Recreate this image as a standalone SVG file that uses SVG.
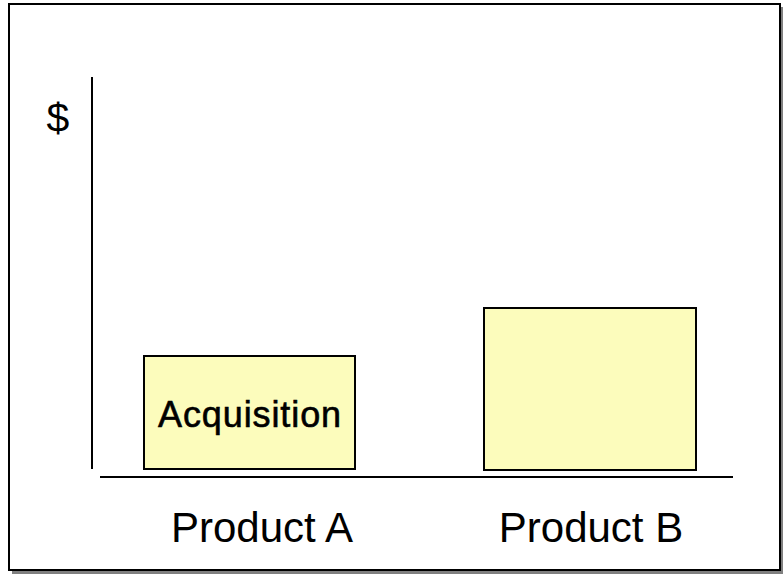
<svg xmlns="http://www.w3.org/2000/svg" width="784" height="577" viewBox="0 0 784 577">
<style>
.t{font-family:"Liberation Sans",Arial,sans-serif;fill:#000}
.bar{fill:#FCFCBC;stroke:#000;stroke-width:2}
.ax{stroke:#000;stroke-width:2;fill:none}
</style>
<rect x="0" y="0" width="784" height="577" fill="#fff"/>
<g id="frame">
<rect x="12" y="7" width="771" height="567" fill="#808080"/>
<rect x="9" y="4" width="771" height="566" fill="#fff" stroke="#000" stroke-width="2"/>
</g>
<g id="connectors">
<line class="ax" x1="92" y1="77" x2="92" y2="469"/>
<line class="ax" x1="100" y1="477" x2="733" y2="477"/>
</g>
<g id="barA">
<rect class="bar" x="144" y="356" width="211" height="113"/>
<text class="t" x="250" y="427" font-size="36" letter-spacing="0.9" stroke="#000" stroke-width="0.6" text-anchor="middle">Acquisition</text>
</g>
<g id="barB">
<rect class="bar" x="484" y="308" width="212" height="162"/>
</g>
<g id="labels">
<text class="t" x="58" y="132" font-size="41" text-anchor="middle">$</text>
<text class="t" x="262" y="542" font-size="42" text-anchor="middle">Product A</text>
<text class="t" x="591" y="542" font-size="42" text-anchor="middle">Product B</text>
</g>
</svg>
